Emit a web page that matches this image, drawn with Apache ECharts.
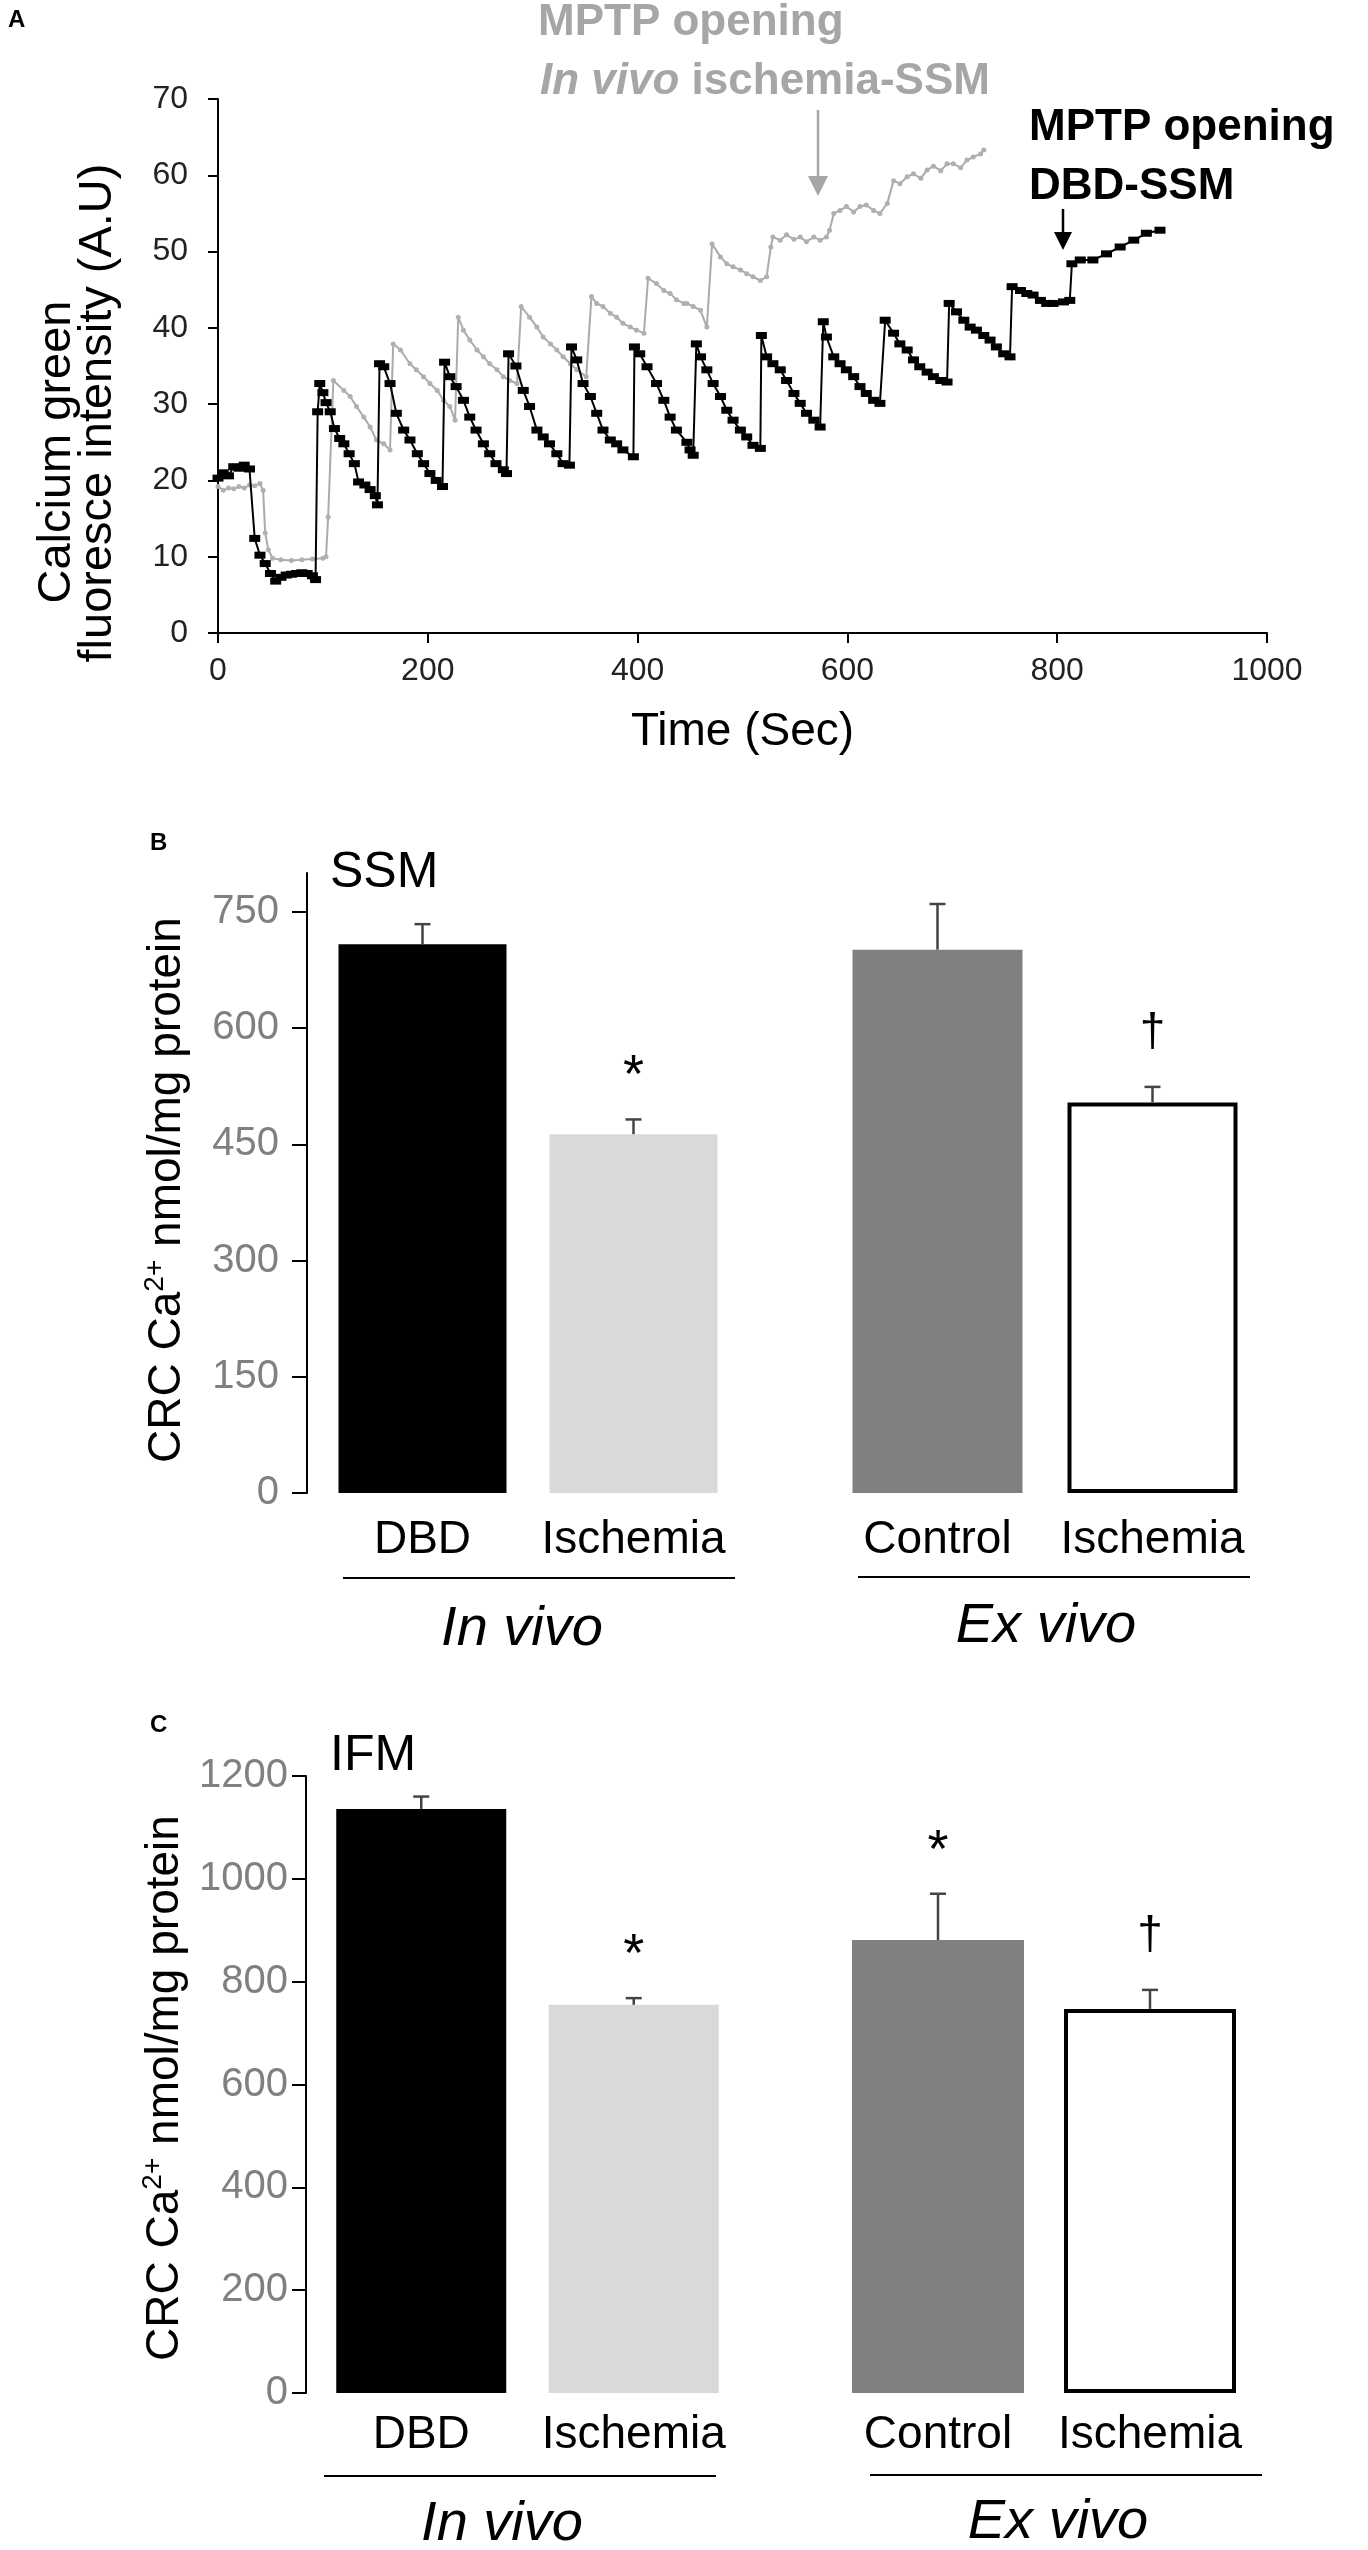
<!DOCTYPE html>
<html>
<head>
<meta charset="utf-8">
<script src="https://cdn.jsdelivr.net/npm/echarts@6/dist/echarts.min.js"></script>
<style>
html,body{margin:0;padding:0;background:#fff}
#chart{width:1368px;height:2550px}
</style>
</head>
<body>
<div id="chart"></div>
<script>
const FONT = "'Liberation Sans', Arial, Helvetica, sans-serif";

// ---------- Panel A: calcium green fluorescence traces [time (s), A.U.] ----------
const dbdTrace = [
  [0,20.3],[5,21.0],[10,20.6],[15,21.8],[20,21.6],[25,22.0],[30,21.5],
  [35,12.4],[40,10.2],[45,9.1],[50,7.8],[55,6.8],[60,7.3],[65,7.6],[70,7.7],[75,7.8],[80,7.9],[85,7.8],[90,7.5],[93,7.0],
  [95,29.0],[97,32.7],[100,31.5],[103,30.2],[107,29.0],[111,26.8],[116,25.5],[120,24.8],[125,23.5],[130,22.2],[134,19.8],[140,19.4],[145,18.8],[150,18.0],[152,16.8],
  [154,35.3],[158,34.9],[164,32.7],[170,28.8],[177,26.6],[183,25.3],[190,23.5],[196,22.2],[202,20.9],[208,20.0],[214,19.2],
  [216,35.5],[221,33.6],[227,32.3],[234,30.5],[240,28.3],[246,26.6],[253,24.8],[259,23.5],[265,22.2],[272,21.4],[275,20.9],
  [277,36.6],[284,35.0],[291,31.8],[297,29.7],[304,26.6],[310,25.7],[316,24.8],[323,23.5],[329,22.2],[335,22.0],
  [337,37.5],[342,35.8],[348,32.7],[355,31.0],[361,28.8],[367,26.6],[374,25.3],[380,24.8],[386,24.0],[396,23.1],
  [397,37.5],[402,36.6],[409,34.9],[418,32.7],[425,30.5],[431,28.3],[437,26.6],[447,25.0],[450,24.0],[453,23.3],
  [456,37.9],[460,36.2],[466,34.5],[472,32.7],[479,31.0],[485,29.2],[491,27.9],[498,26.6],[504,25.7],[510,24.6],[517,24.2],
  [518,39.0],[523,36.2],[529,35.3],[536,34.5],[542,33.1],[549,31.4],[555,30.1],[561,28.8],[568,27.9],[574,27.0],
  [577,40.8],[580,38.8],[587,36.2],[593,35.3],[599,34.5],[606,33.6],[612,32.3],[618,31.4],[625,30.5],[631,30.1],
  [636,41.0],[644,39.3],[650,37.9],[657,37.1],[663,35.8],[669,34.9],[676,34.2],[682,33.6],[689,33.1],[695,32.9],
  [697,43.2],[704,42.1],[711,41.0],[717,40.1],[723,39.7],[730,39.0],[736,38.4],[742,37.5],[749,36.6],[755,36.2],
  [757,45.4],[765,44.9],[771,44.5],[777,44.3],[784,43.6],[790,43.2],[796,43.2],[806,43.4],[812,43.6],
  [814,48.4],[822,48.9],[834,48.9],[847,49.7],[860,50.6],[873,51.5],[885,52.4],[898,52.8]
];
const ischTrace = [
  [0,19.2],[5,18.7],[10,19.0],[15,18.9],[20,19.2],[25,19.0],[30,19.4],[35,19.3],[40,19.6],[43,18.7],
  [45,13.1],[48,10.9],[52,9.8],[60,9.6],[70,9.5],[80,9.6],[90,9.7],[100,9.8],[103,10.0],
  [105,15.2],[110,33.1],[120,31.8],[126,31.0],[132,29.7],[139,28.3],[145,27.0],[151,25.3],[158,24.8],[164,24.0],
  [167,37.9],[174,37.1],[183,35.3],[189,34.5],[196,33.6],[202,32.7],[209,31.8],[215,30.5],[221,29.7],[226,27.9],
  [229,41.4],[234,39.7],[240,38.4],[247,37.1],[253,36.2],[259,35.3],[266,34.5],[272,33.6],[278,33.1],[285,32.7],
  [289,42.8],[297,41.4],[304,40.1],[310,38.8],[317,37.9],[323,37.1],[329,36.2],[336,35.3],[342,34.5],[351,33.6],
  [356,44.1],[361,43.2],[367,42.8],[374,41.9],[380,41.4],[386,40.6],[393,40.1],[399,39.7],[406,39.3],
  [410,46.5],[418,45.8],[425,44.9],[431,44.5],[437,43.7],[444,43.2],[447,43.2],[453,42.8],[460,42.3],[466,40.1],
  [471,51.0],[479,49.3],[485,48.4],[491,48.0],[498,47.6],[504,47.1],[510,46.7],[517,46.2],[523,46.7],
  [527,50.6],[529,51.9],[536,51.5],[542,52.2],[549,51.6],[555,51.9],[561,51.3],[568,51.9],[574,51.5],[580,51.9],[583,52.8],
  [587,55.0],[593,55.4],[599,55.9],[606,55.2],[612,55.9],[618,56.1],[625,55.4],[631,55.0],[638,56.3],
  [644,59.3],[650,58.9],[657,59.8],[663,60.2],[670,59.6],[676,60.7],[682,61.2],[689,60.6],[695,61.5],[701,61.5],[708,61.0],[714,62.0],[720,62.4],[727,62.8],[730,63.3]
];

// ---------- Panels B and C: CRC (nmol/mg protein) ----------
const groupNames = ['DBD', 'Ischemia', 'Control', 'Ischemia'];
const groupSets = ['In vivo', 'Ex vivo'];
const ssmMean = [708, 463, 701, 504];
const ssmSem  = [26, 19, 59, 20];
const ssmMarks = ['', '*', '', '\u2020'];
const ifmMean = [1136, 755, 881, 747];
const ifmSem  = [24, 13, 90, 37];
const ifmMarks = ['', '*', '*', '\u2020'];
const ssmTicks = [0, 150, 300, 450, 600, 750];

const barColors = ['#000000', '#d9d9d9', '#808080', '#ffffff'];
const plain = v => String(v);

function barData(means, off) {
  return means.slice(off, off + 2).map((v, k) => {
    const i = off + k;
    return {
      value: v,
      itemStyle: {
        color: barColors[i],
        borderColor: i === 3 ? '#000' : barColors[i],
        borderWidth: i === 3 ? 4 : 0
      }
    };
  });
}

function errSeries(xi, yi, means, sems, marks, off) {
  return {
    type: 'custom',
    xAxisIndex: xi, yAxisIndex: yi, z: 10,
    data: [0, 1].map(k => [k, means[off + k], sems[off + k]]),
    renderItem: (params, api) => {
      const k = api.value(0), m = api.value(1), e = api.value(2);
      const p0 = api.coord([k, m]);
      const p1 = api.coord([k, m + e]);
      const mk = marks[off + params.dataIndex];
      const ch = [
        {type: 'line', shape: {x1: p0[0], y1: p0[1], x2: p1[0], y2: p1[1]}, style: {stroke: '#444', lineWidth: 2.5}},
        {type: 'line', shape: {x1: p1[0] - 8, y1: p1[1], x2: p1[0] + 8, y2: p1[1]}, style: {stroke: '#444', lineWidth: 2.5}}
      ];
      if (mk) {
        const isStar = mk === '*';
        ch.push({
          type: 'text',
          x: p1[0], y: p1[1] - (isStar ? 42 : 54),
          style: {text: mk, fill: '#000', font: (isStar ? '54px ' : '46px ') + FONT, align: 'center', verticalAlign: 'middle'}
        });
      }
      return {type: 'group', children: ch};
    }
  };
}

function catAxis(gi, off, margin) {
  return {
    gridIndex: gi, type: 'category', data: groupNames.slice(off, off + 2),
    axisLine: {show: false}, axisTick: {show: false}, splitLine: {show: false},
    axisLabel: {interval: 0, color: '#000', fontSize: 46, fontFamily: FONT, margin: margin}
  };
}

const chart = echarts.init(document.getElementById('chart'), null, {renderer: 'canvas'});

const ytitle = '{n|CRC Ca}{s|2+}{n| nmol/mg protein}';
const ytitleRich = {
  n: {fontSize: 46, fontFamily: FONT, fill: '#000', lineHeight: 52},
  s: {fontSize: 28, fontFamily: FONT, fill: '#000', verticalAlign: 'top', lineHeight: 52}
};

const option = {
  animation: false,
  backgroundColor: '#ffffff',
  textStyle: {fontFamily: FONT},
  grid: [
    {left: 218, top: 99, width: 1049, height: 534},
    {left: 317, top: 873, width: 422, height: 620},
    {left: 830, top: 873, width: 430, height: 620},
    {left: 315, top: 1776, width: 425, height: 617},
    {left: 832, top: 1776, width: 424, height: 617}
  ],
  xAxis: [
    {
      gridIndex: 0, type: 'value', min: 0, max: 1000, interval: 200,
      axisLine: {show: true, lineStyle: {color: '#000', width: 2}},
      axisTick: {show: true, length: 10, lineStyle: {color: '#000', width: 2}},
      axisLabel: {color: '#222', fontSize: 32, fontFamily: FONT, margin: 22, formatter: plain},
      splitLine: {show: false},
      name: 'Time (Sec)', nameLocation: 'middle', nameGap: 76,
      nameTextStyle: {fontSize: 46, color: '#000', fontFamily: FONT}
    },
    catAxis(1, 0, 24),
    catAxis(2, 2, 24),
    catAxis(3, 0, 19),
    catAxis(4, 2, 19)
  ],
  yAxis: [
    {
      gridIndex: 0, type: 'value', min: 0, max: 70, interval: 10,
      axisLine: {show: true, lineStyle: {color: '#000', width: 2}},
      axisTick: {show: true, length: 10, lineStyle: {color: '#000', width: 2}},
      axisLabel: {color: '#222', fontSize: 32, fontFamily: FONT, margin: 30, formatter: plain},
      splitLine: {show: false}
    },
    {
      gridIndex: 1, type: 'value', min: 0, max: 800, interval: 150, offset: 10,
      axisLine: {show: true, lineStyle: {color: '#000', width: 2}},
      axisTick: {show: true, length: 15, lineStyle: {color: '#000', width: 2}, customValues: ssmTicks},
      axisLabel: {color: '#808080', fontSize: 40, fontFamily: FONT, margin: 28, customValues: ssmTicks, formatter: plain},
      splitLine: {show: false}
    },
    {gridIndex: 2, type: 'value', min: 0, max: 800, show: false, splitLine: {show: false}},
    {
      gridIndex: 3, type: 'value', min: 0, max: 1200, interval: 200, offset: 9,
      axisLine: {show: true, lineStyle: {color: '#000', width: 2}},
      axisTick: {show: true, length: 14, lineStyle: {color: '#000', width: 2}},
      axisLabel: {color: '#808080', fontSize: 40, fontFamily: FONT, margin: 18, formatter: plain},
      splitLine: {show: false}
    },
    {gridIndex: 4, type: 'value', min: 0, max: 1200, show: false, splitLine: {show: false}}
  ],
  series: [
    {
      name: 'In vivo ischemia-SSM', type: 'line', xAxisIndex: 0, yAxisIndex: 0, z: 3,
      data: ischTrace, showSymbol: true, symbol: 'circle', symbolSize: 5,
      lineStyle: {color: '#ababab', width: 2},
      itemStyle: {color: '#b0b0b0'}
    },
    {
      name: 'DBD-SSM', type: 'line', xAxisIndex: 0, yAxisIndex: 0, z: 4,
      data: dbdTrace, showSymbol: true, symbol: 'rect', symbolSize: [11, 7],
      lineStyle: {color: '#000', width: 2},
      itemStyle: {color: '#000'}
    },
    {type: 'bar', xAxisIndex: 1, yAxisIndex: 1, barWidth: 168, data: barData(ssmMean, 0)},
    {type: 'bar', xAxisIndex: 2, yAxisIndex: 2, barWidth: 170, data: barData(ssmMean, 2)},
    errSeries(1, 1, ssmMean, ssmSem, ssmMarks, 0),
    errSeries(2, 2, ssmMean, ssmSem, ssmMarks, 2),
    {type: 'bar', xAxisIndex: 3, yAxisIndex: 3, barWidth: 170, data: barData(ifmMean, 0)},
    {type: 'bar', xAxisIndex: 4, yAxisIndex: 4, barWidth: 172, data: barData(ifmMean, 2)},
    errSeries(3, 3, ifmMean, ifmSem, ifmMarks, 0),
    errSeries(4, 4, ifmMean, ifmSem, ifmMarks, 2)
  ],
  graphic: [
    // panel letters
    {type: 'text', x: 8, y: 8, style: {text: 'A', font: 'bold 24px ' + FONT, fill: '#000'}},
    {type: 'text', x: 150, y: 831, style: {text: 'B', font: 'bold 24px ' + FONT, fill: '#000'}},
    {type: 'text', x: 150, y: 1713, style: {text: 'C', font: 'bold 24px ' + FONT, fill: '#000'}},
    // panel A y title (two lines, rotated)
    {type: 'text', x: 57, y: 452, rotation: Math.PI / 2,
      style: {text: 'Calcium green', font: '47px ' + FONT, fill: '#000', align: 'center', verticalAlign: 'middle'}},
    {type: 'text', x: 98, y: 413, rotation: Math.PI / 2,
      style: {text: 'fluoresce intensity (A.U)', font: '47px ' + FONT, fill: '#000', align: 'center', verticalAlign: 'middle'}},
    // annotations panel A
    {type: 'text', x: 538, y: 23,
      style: {text: 'MPTP opening', font: 'bold 44px ' + FONT, fill: '#a6a6a6', align: 'left', verticalAlign: 'middle'}},
    {type: 'text', x: 540, y: 82,
      style: {text: '{i|In vivo} ischemia-SSM', font: 'bold 44px ' + FONT, fill: '#a6a6a6', align: 'left', verticalAlign: 'middle',
        rich: {i: {fontStyle: 'italic', fontWeight: 'bold', fontSize: 44, fontFamily: FONT, fill: '#a6a6a6'}}}},
    {type: 'line', shape: {x1: 818, y1: 110, x2: 818, y2: 180}, style: {stroke: '#a6a6a6', lineWidth: 2.5}},
    {type: 'polygon', shape: {points: [[808, 176], [828, 176], [818, 196]]}, style: {fill: '#a6a6a6'}},
    {type: 'text', x: 1029, y: 128,
      style: {text: 'MPTP opening', font: 'bold 44px ' + FONT, fill: '#000', align: 'left', verticalAlign: 'middle'}},
    {type: 'text', x: 1029, y: 187,
      style: {text: 'DBD-SSM', font: 'bold 44px ' + FONT, fill: '#000', align: 'left', verticalAlign: 'middle'}},
    {type: 'line', shape: {x1: 1063, y1: 209, x2: 1063, y2: 236}, style: {stroke: '#000', lineWidth: 2.5}},
    {type: 'polygon', shape: {points: [[1054, 232], [1072, 232], [1063, 250]]}, style: {fill: '#000'}},
    // panel B titles
    {type: 'text', x: 330, y: 873, style: {text: 'SSM', font: '50px ' + FONT, fill: '#000', align: 'left', verticalAlign: 'middle'}},
    {type: 'text', x: 167, y: 1190, rotation: Math.PI / 2,
      style: {text: ytitle, rich: ytitleRich, font: '46px ' + FONT, fill: '#000', align: 'center', verticalAlign: 'middle'}},
    {type: 'line', shape: {x1: 343, y1: 1578, x2: 735, y2: 1578}, style: {stroke: '#000', lineWidth: 2}},
    {type: 'line', shape: {x1: 858, y1: 1577, x2: 1250, y2: 1577}, style: {stroke: '#000', lineWidth: 2}},
    {type: 'text', x: 522, y: 1629, style: {text: groupSets[0], font: 'italic 56px ' + FONT, fill: '#000', align: 'center', verticalAlign: 'middle'}},
    {type: 'text', x: 1046, y: 1626, style: {text: groupSets[1], font: 'italic 56px ' + FONT, fill: '#000', align: 'center', verticalAlign: 'middle'}},
    // panel C titles
    {type: 'text', x: 330, y: 1756, style: {text: 'IFM', font: '50px ' + FONT, fill: '#000', align: 'left', verticalAlign: 'middle'}},
    {type: 'text', x: 165, y: 2088, rotation: Math.PI / 2,
      style: {text: ytitle, rich: ytitleRich, font: '46px ' + FONT, fill: '#000', align: 'center', verticalAlign: 'middle'}},
    {type: 'line', shape: {x1: 324, y1: 2476, x2: 716, y2: 2476}, style: {stroke: '#000', lineWidth: 2}},
    {type: 'line', shape: {x1: 870, y1: 2475, x2: 1262, y2: 2475}, style: {stroke: '#000', lineWidth: 2}},
    {type: 'text', x: 502, y: 2524, style: {text: groupSets[0], font: 'italic 56px ' + FONT, fill: '#000', align: 'center', verticalAlign: 'middle'}},
    {type: 'text', x: 1058, y: 2522, style: {text: groupSets[1], font: 'italic 56px ' + FONT, fill: '#000', align: 'center', verticalAlign: 'middle'}}
  ]
};
chart.setOption(option);
</script>
</body>
</html>
